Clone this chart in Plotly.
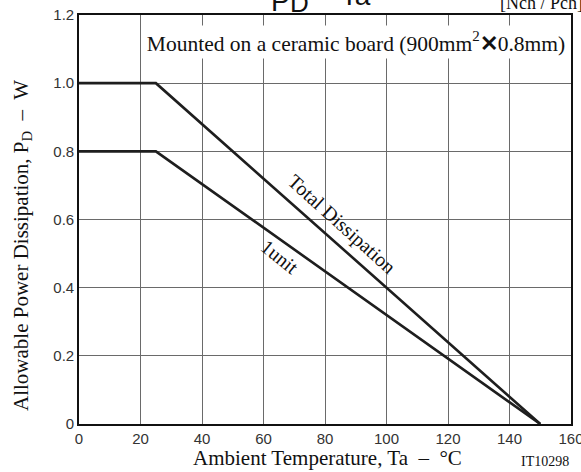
import plotly.graph_objects as go

# Data
total_x = [0, 25, 150]
total_y = [1.0, 1.0, 0.0]
unit_x = [0, 25, 150]
unit_y = [0.8, 0.8, 0.0]
x_ticks = [0, 20, 40, 60, 80, 100, 120, 140, 160]
y_ticks = [0, 0.2, 0.4, 0.6, 0.8, 1.0, 1.2]
y_ticklabels = ["0", "0.2", "0.4", "0.6", "0.8", "1.0", "1.2"]

SERIF = "Liberation Serif"
SANS = "Liberation Sans"
LINE = "#1e1e1e"

L, R, T, B = 79, 571, 15, 424
W, H = R - L, B - T


def px(xp):
    return (xp - L) / W


def py(yp):
    return (B - yp) / H


fig = go.Figure()
fig.add_trace(go.Scatter(x=total_x, y=total_y, mode="lines",
                         line=dict(color=LINE, width=2.6), name="Total Dissipation"))
fig.add_trace(go.Scatter(x=unit_x, y=unit_y, mode="lines",
                         line=dict(color=LINE, width=2.6), name="1unit"))

fig.update_layout(
    template="none",
    width=581, height=472,
    margin=dict(l=L, r=581 - R, t=T, b=472 - B),
    paper_bgcolor="white", plot_bgcolor="white",
    showlegend=False,
    xaxis=dict(range=[0, 160], tickvals=x_ticks, showgrid=True, gridcolor="#6a6a6a", gridwidth=1,
               zeroline=False, showline=True, linecolor="#111", linewidth=1.6, mirror="all",
               ticks="", automargin=False, ticklabeloverflow="allow",
               tickfont=dict(family=SANS, size=15, color="#333")),
    yaxis=dict(range=[0, 1.2], tickvals=y_ticks, ticktext=y_ticklabels, showgrid=True,
               gridcolor="#6a6a6a", gridwidth=1,
               zeroline=False, showline=True, linecolor="#111", linewidth=1.6, mirror="all",
               ticks="", automargin=False, ticklabeloverflow="allow",
               tickfont=dict(family=SANS, size=15, color="#333")),
)

ann = []
# White box with board note
ann.append(dict(xref="paper", yref="paper", x=px(356), y=py(42), xanchor="center", yanchor="middle",
                text="Mounted on a ceramic board (900mm<sup>2</sup><b>✕</b>0.8mm)",
                width=428, height=32, align="center",
                showarrow=False, bgcolor="white", font=dict(family=SERIF, size=21.5, color="#111"),
                borderpad=0))
# Curve labels
ann.append(dict(xref="x", yref="y", x=85.5, y=0.585, text="Total Dissipation", showarrow=False,
                textangle=42, font=dict(family=SERIF, size=20, color="#111")))
ann.append(dict(xref="x", yref="y", x=65.4, y=0.49, text="1unit", showarrow=False,
                textangle=39, font=dict(family=SERIF, size=20, color="#111")))
# Axis titles
ann.append(dict(xref="paper", yref="paper", x=px(327), y=py(458),
                xanchor="center", yanchor="middle", showarrow=False,
                text="Ambient Temperature, Ta  –  °C", font=dict(family=SERIF, size=21, color="#111")))
ann.append(dict(xref="paper", yref="paper", x=px(545), y=py(461),
                xanchor="center", yanchor="middle", showarrow=False,
                text="IT10298", font=dict(family=SERIF, size=14, color="#111")))
ann.append(dict(xref="paper", yref="paper", x=px(22), y=py(246),
                xanchor="center", yanchor="middle", showarrow=False, textangle=-90,
                text="Allowable Power Dissipation, P<sub>D</sub>  –  W",
                font=dict(family=SERIF, size=21, color="#111")))
# Clipped title at top (only its lower edge shows in the reference)
ann.append(dict(xref="paper", yref="paper", x=px(280), y=py(19),
                xanchor="center", yanchor="bottom", showarrow=False,
                text="P", font=dict(family=SANS, size=28, color="#111")))
ann.append(dict(xref="paper", yref="paper", x=px(299), y=py(20),
                xanchor="center", yanchor="bottom", showarrow=False,
                text="D", font=dict(family=SANS, size=26, color="#111")))
ann.append(dict(xref="paper", yref="paper", x=px(340), y=py(13),
                xanchor="center", yanchor="bottom", showarrow=False,
                text="–  Ta", font=dict(family=SANS, size=28, color="#111")))
ann.append(dict(xref="paper", yref="paper", x=px(541), y=py(15),
                xanchor="center", yanchor="bottom", showarrow=False,
                text="[Nch / Pch]", font=dict(family=SERIF, size=18, color="#111")))
fig.update_layout(annotations=ann)

fig.write_html(
    "out.html",
    config={"displayModeBar": False},
    post_script="document.body.style.margin='0';document.body.style.overflow='hidden';"
                "document.documentElement.style.overflow='hidden';",
)
